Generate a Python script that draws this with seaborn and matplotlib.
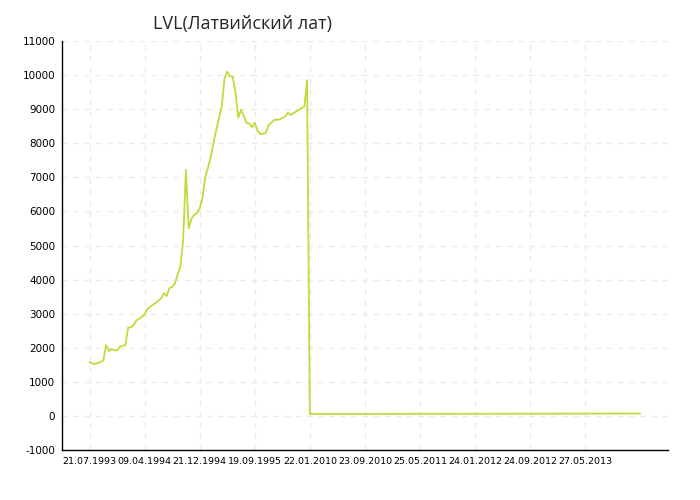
import numpy as np
import pandas as pd
import seaborn as sns
import matplotlib
matplotlib.use("Agg")
import matplotlib.pyplot as plt

# -------------------------------------------------------------------------
# LVL (Latvian lats) rate series, one point per observation
# -------------------------------------------------------------------------

# before the re-denomination (1993-1995 segment)
early_values = [
    1580, 1540, 1520, 1550, 1590, 1630, 2080, 1900, 1960, 1930,
    1920, 2030, 2060, 2075, 2590, 2600, 2660, 2800, 2850, 2900,
    2980, 3140, 3200, 3260, 3310, 3380, 3450, 3600, 3520, 3750,
    3780, 3890, 4150, 4400, 5180, 7220, 5500, 5780, 5900, 5950,
    6090, 6400, 7000, 7270, 7600, 8000, 8390, 8740, 9080, 9900,
    10100, 9960, 9950, 9500, 8750, 8980, 8800, 8600, 8580, 8470,
    8600, 8370, 8270, 8280, 8300, 8540, 8600, 8680, 8690, 8700,
    8740, 8780, 8890, 8830, 8880, 8930, 8980, 9030, 9070, 9850,
]

# 2010-2013 segment
late_values = [
    60, 59, 58, 57, 57, 56, 56, 55, 55, 55,
    56, 56, 56, 57, 57, 57, 58, 58, 58, 58,
    58, 59, 59, 59, 59, 60, 60, 60, 60, 60,
    61, 61, 61, 61, 61, 61, 62, 62, 62, 62,
    61, 61, 61, 61, 62, 62, 62, 62, 62, 63,
    63, 63, 63, 63, 63, 63, 63, 62, 62, 62,
    62, 62, 62, 63, 63, 63, 63, 63, 64, 64,
    64, 64, 64, 64, 64, 64, 64, 65, 65, 65,
    65, 65, 65, 65, 65, 66, 66, 66, 66, 66,
    66, 66, 66, 66, 66, 67, 67, 67, 67, 67,
    67, 67, 67, 67, 68, 68, 68, 68, 68, 68,
    68, 68, 68, 68, 69, 69, 69, 69, 69, 69,
    69,
]

tick_labels = [
    "21.07.1993", "09.04.1994", "21.12.1994", "19.09.1995", "22.01.2010",
    "23.09.2010", "25.05.2011", "24.01.2012", "24.09.2012", "27.05.2013",
]
tick_step = 20

rate = early_values + late_values
df = pd.DataFrame({"idx": np.arange(len(rate)), "rate": rate})

# -------------------------------------------------------------------------
# Plot
# -------------------------------------------------------------------------
sns.set_style("white")
plt.rcParams["font.family"] = ["DejaVu Sans"]

fig = plt.figure(figsize=(7, 5), dpi=100)
ax = fig.add_axes([0.0886, 0.1, 0.8654, 0.818])

sns.lineplot(data=df, x="idx", y="rate", ax=ax, color="#bedc3a",
             linewidth=1.3, estimator=None)

ax.set_xlim(-10, 210)
ax.set_ylim(-1000, 11000)
ax.set_yticks(np.arange(-1000, 11001, 1000))
ax.set_xticks(np.arange(len(tick_labels)) * tick_step)
ax.set_xticklabels(tick_labels, fontsize=6.8)
ax.set_yticklabels([str(v) for v in range(-1000, 11001, 1000)], fontsize=7.5)
ax.set_xlabel("")
ax.set_ylabel("")

ax.grid(True, color="#ebebeb", linestyle=(0, (4, 4)), linewidth=1)
ax.set_axisbelow(True)
for side in ["top", "right"]:
    ax.spines[side].set_visible(False)
for side in ["left", "bottom"]:
    ax.spines[side].set_color("black")
    ax.spines[side].set_linewidth(1)
ax.tick_params(axis="x", direction="inout", length=6, width=1, pad=2, colors="black")
ax.tick_params(axis="y", direction="out", length=3, width=1, pad=2, colors="black")

fig.text(0.347, 0.953, "LVL(Латвийский лат)", fontsize=13, ha="center",
         va="center", family=["Open Sans", "DejaVu Sans"])

fig.savefig("out.png", dpi=100, facecolor="white")
